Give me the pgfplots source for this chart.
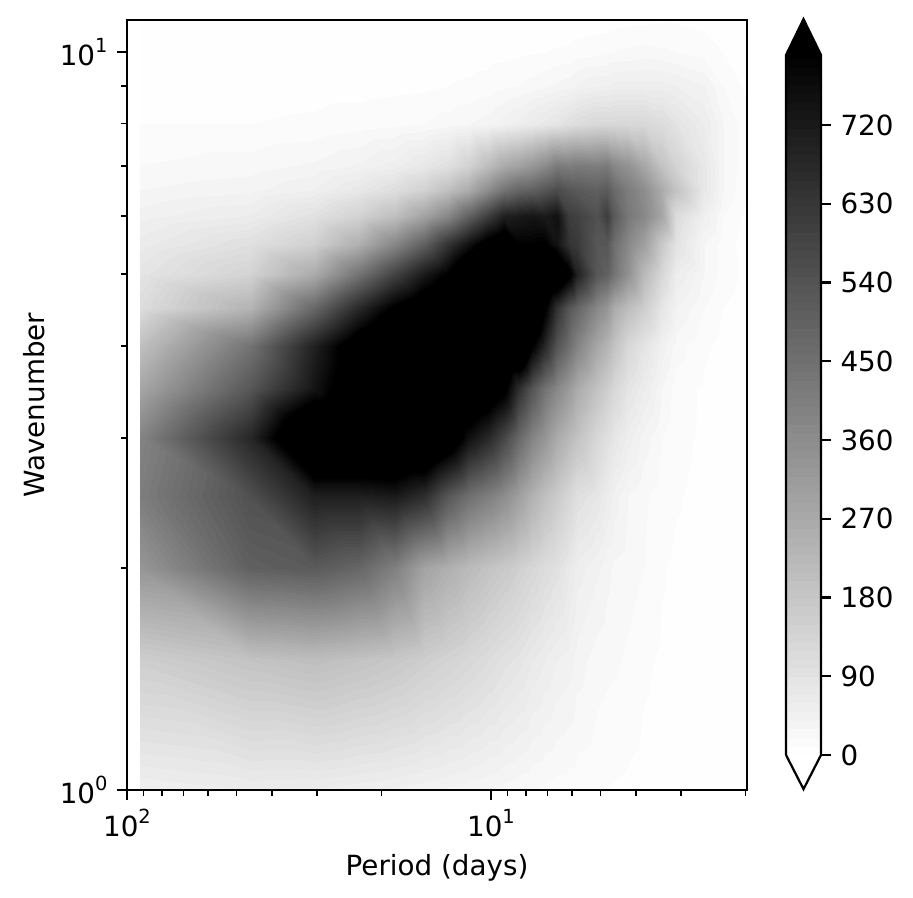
\documentclass[border=0pt]{standalone}
\usepackage{fontspec}
\setmainfont{DejaVu Sans}
\usepackage{pgfplots}
\pgfplotsset{compat=1.18}
\pgfplotsset{colormap={wb}{rgb255(0cm)=(254,254,254); rgb255(2cm)=(0,0,0); rgb255(5cm)=(0,0,0)}}
\pgfplotsset{colormap={steps}{samples of colormap=(201 of wb)}}
\newcommand{\sx}[1]{10\raisebox{0.85ex}{\fontsize{7}{8}\selectfont #1}}
\begin{document}
\begin{tikzpicture}
\useasboundingbox (-45.72pt,-38.88pt) rectangle (282.96pt,284.4pt);
\begin{axis}[
  at={(0pt,0pt)}, anchor=south west, scale only axis,
  width=223.2pt, height=277.2pt,
  xmode=log, ymode=log, x dir=reverse,
  xmin=1.98, xmax=100, ymin=1, ymax=11.05,
  xtick={10,100}, xticklabels={\sx{1},\sx{2}},
  ytick={1,10}, yticklabels={\sx{0},\sx{1}},
  minor xtick={2,3,4,5,6,7,8,9,20,30,40,50,60,70,80,90},
  minor ytick={2,3,4,5,6,7,8,9},
  xtick pos=bottom, ytick pos=left, tick align=outside,
  major tick length=3.5pt, minor tick length=2pt,
  every tick/.style={black,line width=0.8pt}, minor tick style={line width=0.6pt,black},
  axis line style={line width=0.8pt},
  axis on top,
  tick label style={font=\fontsize{10}{12}\selectfont},
  label style={font=\fontsize{10}{12}\selectfont},
  xlabel={Period (days)}, ylabel={Wavenumber},
  xlabel style={yshift=0.7pt}, ylabel style={yshift=-1.44pt},
  colormap name=steps, colormap access=piecewise constant, point meta min=0, point meta max=2000,
]
\addplot[surf, shader=interp, mesh/cols=26, point meta=explicit] coordinates {
(92,1)[50](46,1)[60](30.7,1)[58](23,1)[52](18.4,1)[48](15.3,1)[42](13.1,1)[38](11.5,1)[34](10.2,1)[30](9.2,1)[27](8.4,1)[23](7.7,1)[20](7.1,1)[18](6.6,1)[16](6.1,1)[15](5.8,1)[14](5.1,1)[12](4.8,1)[10](4.6,1)[9](4.2,1)[8](3.8,1)[6](3.4,1)[4](3.1,1)[3](2.6,1)[2](2.3,1)[1](2,1)[1]
(92,1.5)[155](46,1.5)[190](30.7,1.5)[205](23,1.5)[190](18.4,1.5)[175](15.3,1.5)[155](13.1,1.5)[140](11.5,1.5)[125](10.2,1.5)[110](9.2,1.5)[95](8.4,1.5)[85](7.7,1.5)[70](7.1,1.5)[60](6.6,1.5)[50](6.1,1.5)[45](5.8,1.5)[35](5.1,1.5)[25](4.8,1.5)[23](4.6,1.5)[22](4.2,1.5)[18](3.8,1.5)[12](3.4,1.5)[8](3.1,1.5)[6](2.6,1.5)[4](2.3,1.5)[3](2,1.5)[2]
(92,2)[330](46,2)[500](30.7,2)[518](23,2)[480](18.4,2)[400](15.3,2)[290](13.1,2)[250](11.5,2)[215](10.2,2)[190](9.2,2)[170](8.4,2)[150](7.7,2)[130](7.1,2)[110](6.6,2)[95](6.1,2)[72](5.8,2)[55](5.1,2)[42](4.8,2)[33](4.6,2)[28](4.2,2)[25](3.8,2)[20](3.4,2)[11](3.1,2)[8](2.6,2)[6](2.3,2)[4](2,2)[3]
(92,2.5)[408](46,2.5)[550](30.7,2.5)[705](23,2.5)[705](18.4,2.5)[720](15.3,2.5)[660](13.1,2.5)[530](11.5,2.5)[450](10.2,2.5)[405](9.2,2.5)[360](8.4,2.5)[300](7.7,2.5)[245](7.1,2.5)[200](6.6,2.5)[165](6.1,2.5)[130](5.8,2.5)[100](5.1,2.5)[80](4.8,2.5)[60](4.6,2.5)[45](4.2,2.5)[30](3.8,2.5)[22](3.4,2.5)[15](3.1,2.5)[11](2.6,2.5)[7](2.3,2.5)[4](2,2.5)[2]
(92,3)[390](46,3)[680](30.7,3)[1000](23,3)[1000](18.4,3)[1000](15.3,3)[1000](13.1,3)[900](11.5,3)[750](10.2,3)[675](9.2,3)[580](8.4,3)[470](7.7,3)[390](7.1,3)[330](6.6,3)[265](6.1,3)[220](5.8,3)[190](5.1,3)[125](4.8,3)[100](4.6,3)[80](4.2,3)[55](3.8,3)[35](3.4,3)[20](3.1,3)[13](2.6,3)[8](2.3,3)[3](2,3)[2]
(92,3.5)[280](46,3.5)[530](30.7,3.5)[740](23,3.5)[900](18.4,3.5)[1000](15.3,3.5)[1000](13.1,3.5)[1000](11.5,3.5)[950](10.2,3.5)[900](9.2,3.5)[830](8.4,3.5)[650](7.7,3.5)[535](7.1,3.5)[440](6.6,3.5)[375](6.1,3.5)[315](5.8,3.5)[265](5.1,3.5)[190](4.8,3.5)[155](4.6,3.5)[125](4.2,3.5)[85](3.8,3.5)[60](3.4,3.5)[30](3.1,3.5)[15](2.6,3.5)[8](2.3,3.5)[4](2,3.5)[2]
(92,4)[200](46,4)[440](30.7,4)[700](23,4)[880](18.4,4)[1000](15.3,4)[1000](13.1,4)[1000](11.5,4)[1000](10.2,4)[1000](9.2,4)[1000](8.4,4)[1000](7.7,4)[810](7.1,4)[675](6.6,4)[535](6.1,4)[455](5.8,4)[390](5.1,4)[280](4.8,4)[235](4.6,4)[190](4.2,4)[125](3.8,4)[85](3.4,4)[45](3.1,4)[25](2.6,4)[12](2.3,4)[6](2,4)[3]
(92,4.5)[110](46,4.5)[237](30.7,4.5)[477](23,4.5)[676](18.4,4.5)[820](15.3,4.5)[900](13.1,4.5)[950](11.5,4.5)[1000](10.2,4.5)[1100](9.2,4.5)[1100](8.4,4.5)[1100](7.7,4.5)[1000](7.1,4.5)[810](6.6,4.5)[640](6.1,4.5)[530](5.8,4.5)[485](5.1,4.5)[375](4.8,4.5)[330](4.6,4.5)[265](4.2,4.5)[205](3.8,4.5)[155](3.4,4.5)[80](3.1,4.5)[40](2.6,4.5)[20](2.3,4.5)[10](2,4.5)[5]
(92,5)[85](46,5)[140](30.7,5)[264](23,5)[441](18.4,5)[593](15.3,5)[720](13.1,5)[810](11.5,5)[950](10.2,5)[1000](9.2,5)[1000](8.4,5)[1000](7.7,5)[1000](7.1,5)[1000](6.6,5)[950](6.1,5)[830](5.8,5)[700](5.1,5)[530](4.8,5)[500](4.6,5)[440](4.2,5)[345](3.8,5)[220](3.4,5)[125](3.1,5)[60](2.6,5)[30](2.3,5)[15](2,5)[8]
(92,5.5)[65](46,5.5)[99](30.7,5.5)[150](23,5.5)[250](18.4,5.5)[380](15.3,5.5)[500](13.1,5.5)[640](11.5,5.5)[750](10.2,5.5)[850](9.2,5.5)[900](8.4,5.5)[800](7.7,5.5)[800](7.1,5.5)[805](6.6,5.5)[740](6.1,5.5)[640](5.8,5.5)[620](5.1,5.5)[530](4.8,5.5)[530](4.6,5.5)[455](4.2,5.5)[375](3.8,5.5)[300](3.4,5.5)[170](3.1,5.5)[90](2.6,5.5)[30](2.3,5.5)[15](2,5.5)[6]
(92,6)[45](46,6)[61](30.7,6)[95](23,6)[143](18.4,6)[203](15.3,6)[290](13.1,6)[380](11.5,6)[500](10.2,6)[610](9.2,6)[705](8.4,6)[720](7.7,6)[735](7.1,6)[720](6.6,6)[750](6.1,6)[610](5.8,6)[600](5.1,6)[550](4.8,6)[610](4.6,6)[520](4.2,6)[425](3.8,6)[375](3.4,6)[280](3.1,6)[110](2.6,6)[50](2.3,6)[20](2,6)[8]
(92,6.5)[30](46,6.5)[37](30.7,6.5)[50](23,6.5)[75](18.4,6.5)[105](15.3,6.5)[145](13.1,6.5)[200](11.5,6.5)[265](10.2,6.5)[360](9.2,6.5)[440](8.4,6.5)[485](7.7,6.5)[500](7.1,6.5)[535](6.6,6.5)[565](6.1,6.5)[535](5.8,6.5)[520](5.1,6.5)[500](4.8,6.5)[520](4.6,6.5)[470](4.2,6.5)[410](3.8,6.5)[360](3.4,6.5)[265](3.1,6.5)[190](2.6,6.5)[75](2.3,6.5)[30](2,6.5)[12]
(92,7)[20](46,7)[25](30.7,7)[32](23,7)[42](18.4,7)[55](15.3,7)[75](13.1,7)[100](11.5,7)[145](10.2,7)[210](9.2,7)[270](8.4,7)[300](7.7,7)[330](7.1,7)[370](6.6,7)[420](6.1,7)[410](5.8,7)[420](5.1,7)[410](4.8,7)[420](4.6,7)[380](4.2,7)[345](3.8,7)[280](3.4,7)[190](3.1,7)[140](2.6,7)[75](2.3,7)[30](2,7)[15]
(92,8)[10](46,8)[10](30.7,8)[12](23,8)[15](18.4,8)[18](15.3,8)[20](13.1,8)[25](11.5,8)[30](10.2,8)[35](9.2,8)[45](8.4,8)[55](7.7,8)[65](7.1,8)[75](6.6,8)[85](6.1,8)[100](5.8,8)[110](5.1,8)[125](4.8,8)[125](4.6,8)[125](4.2,8)[125](3.8,8)[125](3.4,8)[110](3.1,8)[90](2.6,8)[60](2.3,8)[30](2,8)[15]
(92,9)[5](46,9)[5](30.7,9)[6](23,9)[6](18.4,9)[7](15.3,9)[8](13.1,9)[10](11.5,9)[12](10.2,9)[14](9.2,9)[18](8.4,9)[20](7.7,9)[24](7.1,9)[28](6.6,9)[32](6.1,9)[36](5.8,9)[42](5.1,9)[50](4.8,9)[50](4.6,9)[55](4.2,9)[55](3.8,9)[55](3.4,9)[55](3.1,9)[50](2.6,9)[40](2.3,9)[20](2,9)[8]
(92,10)[2](46,10)[2](30.7,10)[3](23,10)[3](18.4,10)[3](15.3,10)[4](13.1,10)[4](11.5,10)[5](10.2,10)[6](9.2,10)[7](8.4,10)[8](7.7,10)[9](7.1,10)[10](6.6,10)[11](6.1,10)[12](5.8,10)[14](5.1,10)[16](4.8,10)[18](4.6,10)[20](4.2,10)[22](3.8,10)[24](3.4,10)[22](3.1,10)[20](2.6,10)[15](2.3,10)[10](2,10)[4]
(92,11.05)[1](46,11.05)[1](30.7,11.05)[1](23,11.05)[1](18.4,11.05)[1](15.3,11.05)[1](13.1,11.05)[2](11.5,11.05)[2](10.2,11.05)[2](9.2,11.05)[2](8.4,11.05)[2](7.7,11.05)[3](7.1,11.05)[3](6.6,11.05)[3](6.1,11.05)[3](5.8,11.05)[4](5.1,11.05)[5](4.8,11.05)[5](4.6,11.05)[6](4.2,11.05)[7](3.8,11.05)[8](3.4,11.05)[9](3.1,11.05)[9](2.6,11.05)[7](2.3,11.05)[4](2,11.05)[2]
};
\end{axis}
\begin{axis}[
  at={(237.24pt,12.6pt)}, anchor=south west, scale only axis,
  width=12.6pt, height=252pt,
  xmin=0, xmax=1, ymin=0, ymax=800, clip=false,
  xtick=\empty, ytick={0,90,180,270,360,450,540,630,720},
  ytick pos=right, tick align=outside, major tick length=3.5pt,
  every tick/.style={black,line width=0.8pt},
  axis line style={draw=none},
  tick label style={font=\fontsize{10}{12}\selectfont},
  /pgf/number format/assume math mode=true,
  colormap name=steps, colormap access=piecewise constant, point meta min=0, point meta max=2000,
]
\addplot[surf, shader=interp, mesh/cols=2, point meta=explicit] coordinates {
(0,0)[0] (1,0)[0] (0,800)[800] (1,800)[800]
};
\addplot[fill=black, draw=none] coordinates {(0,800) (0.5,841) (1,800)} --cycle;
\addplot[draw=black, line width=0.8pt] coordinates {(0,0) (0.5,-39) (1,0) (1,800) (0.5,841) (0,800) (0,0)};
\end{axis}
\end{tikzpicture}
\end{document}
